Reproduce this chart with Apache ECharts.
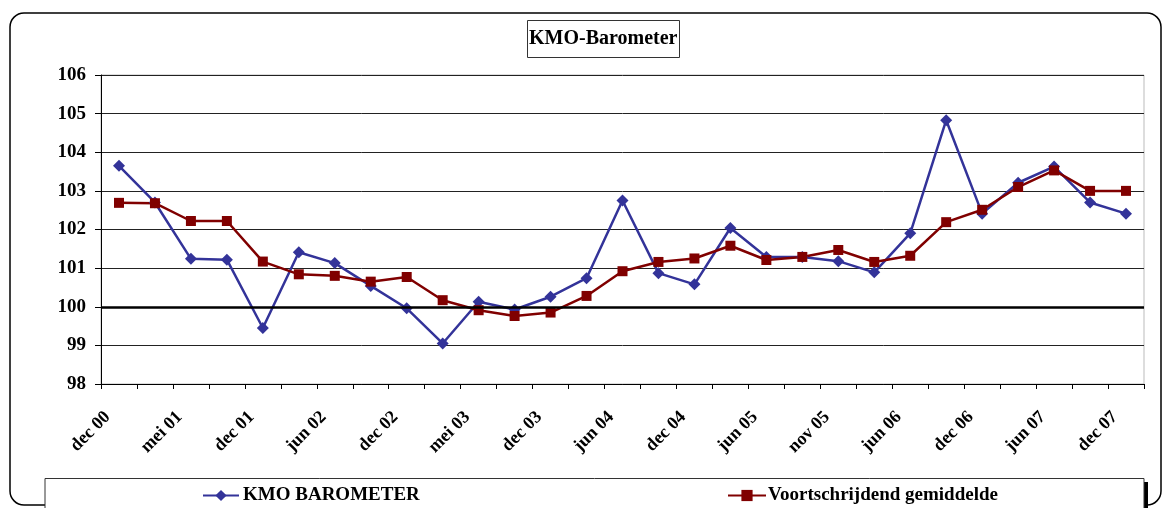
<!DOCTYPE html>
<html>
<head>
<meta charset="utf-8">
<script src="https://cdn.jsdelivr.net/npm/echarts@6/dist/echarts.min.js"></script>
<style>html,body{margin:0;padding:0;background:#fff;}#c{width:1164px;height:508px;}</style>
</head>
<body>
<div id="c"></div>
<script>
var categories = ['dec 00','mrt 01','mei 01','sep 01','dec 01','mrt 02','jun 02','sep 02','dec 02','mrt 03','mei 03','sep 03','dec 03','mrt 04','jun 04','sep 04','dec 04','mrt 05','jun 05','sep 05','nov 05','mrt 06','jun 06','sep 06','dec 06','mrt 07','jun 07','sep 07','dec 07'];
var kmoBarometer = [103.65,102.70,101.24,101.22,99.45,101.41,101.13,100.54,99.96,99.05,100.13,99.93,100.26,100.74,102.75,100.87,100.58,102.04,101.29,101.29,101.18,100.89,101.90,104.83,102.41,103.21,103.63,102.70,102.41];
var voortschrijdend = [102.69,102.68,102.22,102.22,101.17,100.84,100.80,100.65,100.77,100.17,99.91,99.76,99.85,100.28,100.92,101.16,101.25,101.58,101.21,101.29,101.47,101.16,101.32,102.19,102.51,103.10,103.53,103.00,103.00];
var yTicks = {min: 98, max: 106, step: 1};
var seriesNames = ['KMO BAROMETER', 'Voortschrijdend gemiddelde'];

var FONT = '"Liberation Serif", "Times New Roman", serif';
var chart = echarts.init(document.getElementById('c'), null, {renderer: 'canvas'});
chart.setOption({
  backgroundColor: '#fff',
  animation: false,
  graphic: [
    {type: 'rect', z: -10, shape: {x: 10, y: 13, width: 1151, height: 492, r: 14},
     style: {fill: 'none', stroke: '#000', lineWidth: 1.5}},
    {type: 'rect', z: -6, shape: {x: 49, y: 482, width: 1099, height: 40},
     style: {fill: '#000'}},
    {type: 'rect', z: -5, shape: {x: 45, y: 478.5, width: 1099, height: 40},
     style: {fill: '#fff', stroke: '#333', lineWidth: 1}}
  ],
  title: {
    text: 'KMO-Barometer',
    left: 527, top: 20,
    padding: [9, 2, 9, 2],
    borderColor: '#333', borderWidth: 1,
    textStyle: {fontFamily: FONT, fontWeight: 'bold', fontSize: 20, color: '#000'}
  },
  legend: [
    {data: [seriesNames[0]], left: 202, top: 486, padding: 0, itemWidth: 36, itemHeight: 14,
     textStyle: {fontFamily: FONT, fontWeight: 'bold', fontSize: 19, color: '#000', padding: [0,0,0,-1]}},
    {data: [seriesNames[1]], left: 727, top: 486, padding: 0, itemWidth: 38, itemHeight: 14,
     textStyle: {fontFamily: FONT, fontWeight: 'bold', fontSize: 19, color: '#000', padding: [0,0,0,-3]}}
  ],
  grid: {left: 101, right: 20, top: 75, bottom: 124, show: true, borderColor: '#bbb', borderWidth: 1, containLabel: false},
  xAxis: {
    type: 'category', data: categories, boundaryGap: true,
    axisLine: {show: true, lineStyle: {color: '#000', width: 1}},
    axisTick: {show: true, interval: 0, length: 5, lineStyle: {color: '#000'}},
    axisLabel: {interval: 1, rotate: 45, margin: 19, padding: [0, 16, 0, 0],
      fontFamily: FONT, fontWeight: 'bold', fontSize: 18, color: '#000'},
    splitLine: {show: false}
  },
  yAxis: {
    type: 'value', min: yTicks.min, max: yTicks.max, interval: yTicks.step,
    axisLine: {show: true, lineStyle: {color: '#000', width: 1}},
    axisTick: {show: true, length: 6, lineStyle: {color: '#000'}},
    axisLabel: {margin: 15, fontFamily: FONT, fontWeight: 'bold', fontSize: 19, color: '#000'},
    splitLine: {show: true, lineStyle: {color: '#222', width: 1}}
  },
  series: [
    {name: seriesNames[0], type: 'line', data: kmoBarometer,
     symbol: 'diamond', symbolSize: 12,
     lineStyle: {color: '#333399', width: 2.5}, itemStyle: {color: '#333399'},
     markLine: {silent: true, symbol: 'none', label: {show: false},
       lineStyle: {color: '#000', width: 2.5, type: 'solid'}, data: [{yAxis: 100}]}},
    {name: seriesNames[1], type: 'line', data: voortschrijdend,
     symbol: 'rect', symbolSize: 10,
     lineStyle: {color: '#800000', width: 2.5}, itemStyle: {color: '#800000'}}
  ]
});
</script>
</body>
</html>
